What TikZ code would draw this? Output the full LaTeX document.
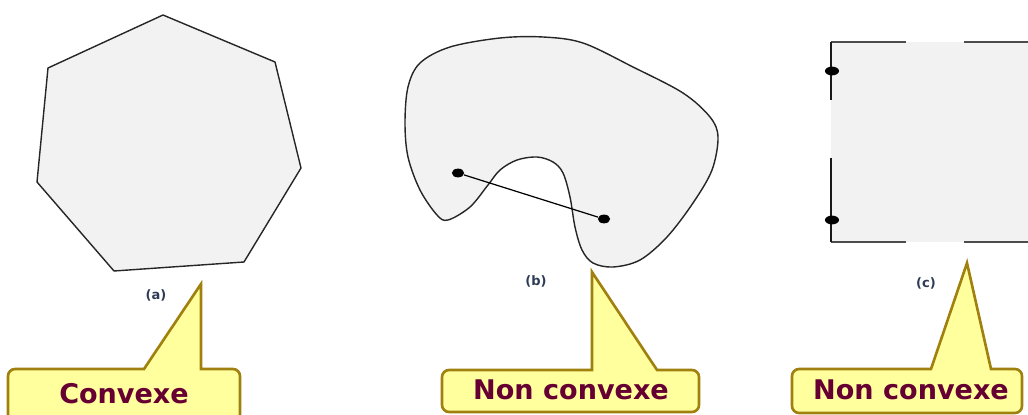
\documentclass[tikz,border=0pt]{standalone}
\usepackage{fontspec}
\setmainfont{DejaVu Sans}
\usetikzlibrary{shapes.geometric}
\definecolor{shapec}{HTML}{F2F2F2}
\definecolor{calloutc}{HTML}{FFFF9E}
\definecolor{calloutedge}{HTML}{A0800E}
\definecolor{wordc}{HTML}{660033}
\definecolor{tagc}{HTML}{2E3B57}
\tikzset{
  region/.style={fill=shapec, draw=black!85, line width=0.8pt, line join=round},
  rim/.style={draw=black!70, line width=0.6pt},
  callout/.style={fill=calloutc, draw=calloutedge, line width=1.5pt, line join=miter},
  word/.style={font=\fontsize{15.4}{18}\selectfont\bfseries, text=wordc, inner sep=0pt, anchor=base},
  tag/.style={font=\fontsize{7.4}{9}\selectfont\bfseries, text=tagc, inner sep=0pt},
  dot/.style={ellipse, fill=black, inner sep=0pt, minimum width=7pt, minimum height=5pt},
}

\begin{document}
\begin{tikzpicture}[x=0.02cm, y=-0.02cm]
\clip (0,0) rectangle (1028,415);
% (a) convex heptagon
\draw[region] (163,15) -- (275,62) -- (301,168) -- (244,262) -- (114,271) -- (37,182) -- (48,68) -- cycle;
\node[tag] (taga) at (156,295) {(a)};
% (b) blob with a dent
\draw[region] plot[smooth cycle, tension=0.55] coordinates {(420,63) (450,47) (500,38) (543,37) (583,43) (633,67) (683,93) (710,117) (718,137) (712,170) (693,203) (667,237) (640,260) (613,267) (593,263) (582,250) (575,227) (570,197) (563,173) (553,162) (537,157) (517,160) (500,170) (488,185) (470,207) (448,220) (437,215) (420,190) (408,157) (405,123) (408,87)};
\node[dot] (pb1) at (458,173) {};
\node[dot] (pb2) at (604,219) {};
\draw[line width=0.7pt] (pb1) -- (pb2);
\node[tag] (tagb) at (536,281) {(b)};
% (c) square with missing edges
\fill[shapec] (831,42) rectangle (1028,242);
\draw[rim] (831,42) -- (906,42);
\draw[rim] (964,42) -- (1028,42);
\draw[rim] (831,242) -- (906,242);
\draw[rim] (964,242) -- (1028,242);
\draw[rim, draw=black!90] (831,42) -- (831,100);
\draw[rim, draw=black!90] (831,158) -- (831,242);
\node[dot, minimum width=8pt] (pc1) at (832,71) {};
\node[dot, minimum width=8pt] (pc2) at (832,220) {};
\node[tag] (tagc) at (926,283) {(c)};
% callouts
\draw[callout] (201,284) -- (201,369) [rounded corners=4pt] -- (240,369) -- (240,422) -- (8,422) -- (8,369) [sharp corners] -- (144,369) -- cycle;
\node[word] (worda) at (124,403) {Convexe};
\draw[callout] (592,272) -- (657,370) [rounded corners=4pt] -- (699,370) -- (699,412) -- (442,412) -- (442,370) [sharp corners] -- (592,370) -- cycle;
\node[word] (wordb) at (571,399) {Non convexe};
\draw[callout] (967,263) -- (991,369) [rounded corners=4pt] -- (1022,369) -- (1022,413) -- (792,413) -- (792,369) [sharp corners] -- (931,369) -- cycle;
\node[word] (wordc) at (911,399) {Non convexe};
\end{tikzpicture}
\end{document}
